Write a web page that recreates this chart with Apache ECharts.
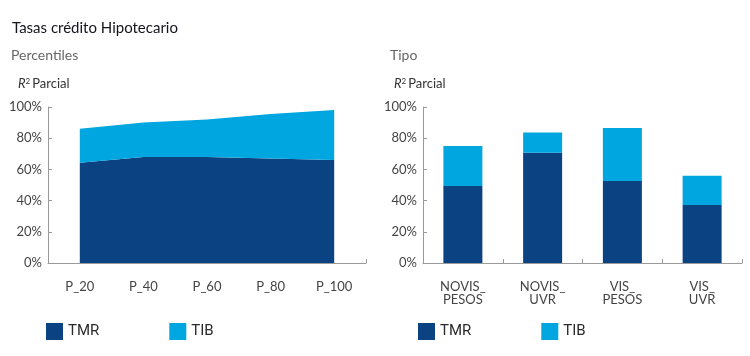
<!DOCTYPE html>
<html>
<head>
<meta charset="utf-8">
<script src="https://cdn.jsdelivr.net/npm/echarts@6/dist/echarts.min.js"></script>
<style>
  html, body { margin: 0; padding: 0; background: #fff; }
  #chart { width: 750px; height: 356px; }
</style>
</head>
<body>
<div id="chart"></div>
<script>
// === ДАННЫЕ ===
const percentiles = ['P_20', 'P_40', 'P_60', 'P_80', 'P_100'];
const tmrPercentil = [64.3, 68, 68, 67, 66];
const tibPercentil = [21.7, 22, 24, 28.5, 32];

const tipos = ['NOVIS_PESOS', 'NOVIS_UVR', 'VIS_PESOS', 'VIS_UVR'];
const tmrTipo = [49.4, 70.6, 52.5, 37.2];
const tibTipo = [25.6, 13.1, 34.1, 18.8];

const seriesNames = ['TMR', 'TIB'];

// === СТИЛИ ===
const colorTMR = '#0b4282';
const colorTIB = '#00a6df';
const axisColor = '#9a9a9a';
const fontMain = 'Lato, "Open Sans", sans-serif';

const chart = echarts.init(document.getElementById('chart'), null, { renderer: 'canvas' });

function yAxisCfg(gridIndex) {
    return {
        type: 'value',
        gridIndex: gridIndex,
        min: 0,
        max: 100,
        interval: 20,
        axisLine: { show: true, lineStyle: { color: axisColor, width: 1 } },
        axisTick: { show: true, inside: true, length: 4, lineStyle: { color: axisColor } },
        splitLine: { show: false },
        axisLabel: {
            formatter: '{value}%',
            color: '#444',
            fontFamily: fontMain,
            fontSize: 13,
            margin: 6
        }
    };
}

function xAxisCfg(gridIndex, data, formatter) {
    return {
        type: 'category',
        gridIndex: gridIndex,
        data: data,
        boundaryGap: true,
        axisLine: { show: true, lineStyle: { color: axisColor, width: 1 } },
        axisTick: { show: true, inside: true, length: 4, lineStyle: { color: axisColor } },
        axisLabel: {
            color: '#444',
            fontFamily: fontMain,
            fontSize: 13,
            lineHeight: 13,
            margin: 17,
            formatter: formatter
        }
    };
}

const r2Rich = {
    i: { fontStyle: 'italic', fontWeight: 'normal', fontSize: 13, color: '#333', fontFamily: fontMain },
    s: { fontSize: 8, fontWeight: 'normal', color: '#333', verticalAlign: 'top', padding: [0, 2, 6, 0], fontFamily: fontMain },
    t: { fontSize: 13, fontWeight: 'normal', color: '#333', fontFamily: fontMain }
};

const legendText = { fontFamily: 'Roboto, sans-serif', fontSize: 15, color: '#2a2a2a' };

const option = {
    animation: false,
    color: [colorTMR, colorTIB],
    title: [
        {
            text: 'Tasas crédito Hipotecario',
            left: 7, top: 16,
            textStyle: { fontFamily: fontMain, fontSize: 15, fontWeight: 'normal', color: '#14141e' }
        },
        {
            text: 'Percentiles',
            left: 6, top: 43,
            textStyle: { fontFamily: fontMain, fontSize: 14, fontWeight: 'normal', color: '#666' }
        },
        {
            text: 'Tipo',
            left: 385, top: 43,
            textStyle: { fontFamily: fontMain, fontSize: 14, fontWeight: 'normal', color: '#666' }
        },
        {
            text: '{i|R}{s|2}{t|Parcial}',
            left: 13, top: 72,
            textStyle: { fontWeight: 'normal', rich: r2Rich }
        },
        {
            text: '{i|R}{s|2}{t|Parcial}',
            left: 389, top: 72,
            textStyle: { fontWeight: 'normal', rich: r2Rich }
        }
    ],
    legend: [
        {
            data: seriesNames,
            left: 46, top: 323,
            padding: 0,
            itemWidth: 17, itemHeight: 17,
            itemGap: 70,
            icon: 'rect',
            textStyle: legendText,
            selectedMode: false
        },
        {
            data: seriesNames,
            left: 418, top: 323,
            padding: 0,
            itemWidth: 17, itemHeight: 17,
            itemGap: 70,
            icon: 'rect',
            textStyle: legendText,
            selectedMode: false
        }
    ],
    grid: [
        { left: 48, right: 384, top: 107, bottom: 93, containLabel: false },
        { left: 423, right: 8, top: 107, bottom: 93, containLabel: false }
    ],
    xAxis: [
        xAxisCfg(0, percentiles),
        xAxisCfg(1, tipos, v => v.replace('_', '_\n'))
    ],
    yAxis: [yAxisCfg(0), yAxisCfg(1)],
    series: [
        {
            name: 'TMR', type: 'line', stack: 'p', xAxisIndex: 0, yAxisIndex: 0,
            data: tmrPercentil, symbol: 'none', lineStyle: { width: 0 },
            areaStyle: { color: colorTMR, opacity: 1 }, z: 1
        },
        {
            name: 'TIB', type: 'line', stack: 'p', xAxisIndex: 0, yAxisIndex: 0,
            data: tibPercentil, symbol: 'none', lineStyle: { width: 0 },
            areaStyle: { color: colorTIB, opacity: 1 }, z: 1
        },
        {
            name: 'TMR', type: 'bar', stack: 't', xAxisIndex: 1, yAxisIndex: 1,
            data: tmrTipo, barWidth: 39, itemStyle: { color: colorTMR }
        },
        {
            name: 'TIB', type: 'bar', stack: 't', xAxisIndex: 1, yAxisIndex: 1,
            data: tibTipo, barWidth: 39, itemStyle: { color: colorTIB }
        }
    ]
};

chart.setOption(option);
</script>
</body>
</html>
